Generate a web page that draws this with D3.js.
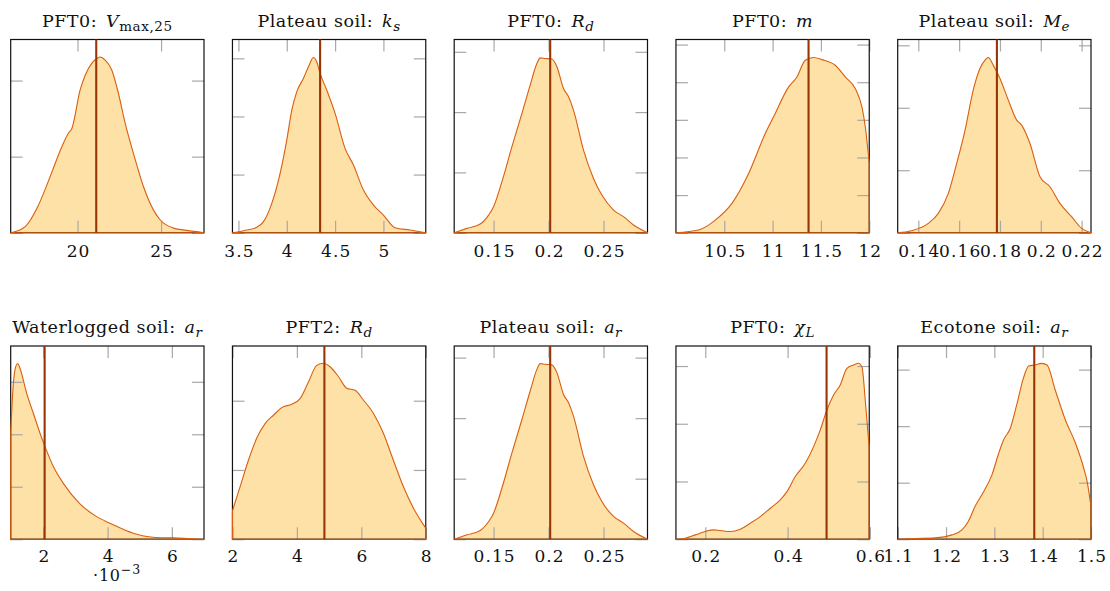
<!DOCTYPE html>
<html><head><meta charset="utf-8">
<script src="https://cdn.jsdelivr.net/npm/d3@7"></script>
<style>
body{margin:0;background:#fff}
svg{display:block}
text{font-family:"DejaVu Serif","Liberation Serif",serif;fill:#111}
</style>
</head><body><svg id="c" width="1110" height="591"></svg>
<script>
// ---- titles ----
const titlePrefix = ["PFT0:", "Plateau soil:", "PFT0:", "PFT0:", "Plateau soil:",
                     "Waterlogged soil:", "PFT2:", "Plateau soil:", "PFT0:", "Ecotone soil:"];
const titleSymbol = ["V", "k", "R", "m", "M", "a", "R", "a", "χ", "a"];
const titleSub    = ["max,25", "s", "d", "", "e", "r", "d", "r", "L", "r"];
const subItalic   = [false, true, true, true, true, true, true, true, true, true];

// ---- axes ----
const xDomains = [[16.0, 27.57], [3.438, 5.438], [0.1142, 0.29], [10.0, 12.0], [0.1299, 0.2246],
                  [0.000984, 0.007], [2, 8], [0.1142, 0.29], [0.1287, 0.5984], [1.1, 1.5]];
const xTicks = [[20, 25], [3.5, 4, 4.5, 5], [0.15, 0.2, 0.25], [10.5, 11, 11.5, 12],
                [0.14, 0.16, 0.18, 0.2, 0.22], [0.002, 0.004, 0.006], [2, 4, 6, 8],
                [0.15, 0.2, 0.25], [0.2, 0.4, 0.6], [1.1, 1.2, 1.3, 1.4, 1.5]];
const xTickMultiplier = [1, 1, 1, 1, 1, 1000, 1, 1, 1, 1];
const yMaxes = [0.254, 1.662, 16.02, 1.027, 30.93, 736.5, 0.279, 15.96, 3.347, 6.836];
const ySteps = [0.1, 0.5, 5, 0.2, 10, 200, 0.1, 5, 1, 2];

// ---- reference (vertical line) values ----
const refValues = [21.12, 4.345, 0.2015, 11.372, 0.1785, 0.00204, 4.854, 0.2015, 0.4947, 1.3826];

// ---- density curves [x, density] ----
const vmaxPFT0 = [[16.02,0],[16.87,0.008],[17.57,0.032],[17.97,0.052],[18.47,0.080],[19.06,0.113],
  [19.46,0.131],[19.66,0.137],[20.16,0.188],[20.46,0.207],[20.86,0.223],[21.16,0.229],[21.35,0.231],
  [21.65,0.227],[22.05,0.214],[22.45,0.183],[22.85,0.144],[23.35,0.104],[23.94,0.061],[24.54,0.030],
  [24.94,0.017],[25.74,0.006],[26.53,0.003],[27.57,0]];
const ksPlateau = [[3.438,0],[3.552,0.017],[3.69,0.046],[3.759,0.095],[3.845,0.252],[3.931,0.51],
  [4.0,0.797],[4.052,1.054],[4.103,1.212],[4.172,1.327],[4.224,1.427],[4.276,1.507],[4.31,1.47],
  [4.345,1.37],[4.414,1.226],[4.5,1.026],[4.603,0.725],[4.69,0.582],[4.793,0.367],[4.897,0.238],
  [5.0,0.152],[5.12,0.043],[5.276,0.023],[5.438,0]];
const rdPFT0 = [[0.1142,0],[0.1258,0.36],[0.1379,0.72],[0.1455,1.46],[0.15,2.15],[0.1576,4.23],
  [0.1667,7.13],[0.1758,9.89],[0.1833,12.24],[0.1894,14.03],[0.1924,14.5],[0.197,14.45],[0.203,14.4],
  [0.2076,13.76],[0.2136,11.96],[0.2182,11.27],[0.2227,10.17],[0.2318,6.85],[0.2409,4.5],[0.2485,3.12],
  [0.2591,1.88],[0.2682,1.33],[0.2773,0.64],[0.29,0]];
const mPFT0 = [[10.0,0],[10.234,0.014],[10.407,0.067],[10.579,0.156],[10.752,0.315],[10.924,0.527],
  [11.01,0.616],[11.166,0.775],[11.252,0.828],[11.338,0.917],[11.424,0.931],[11.51,0.92],[11.648,0.89],
  [11.752,0.828],[11.855,0.766],[11.924,0.669],[11.959,0.563],[12.0,0.368]];
const mePlateau = [[0.1299,0],[0.1367,0.32],[0.1449,1.49],[0.1498,3.09],[0.1547,6.29],[0.1588,11.09],
  [0.1629,16.43],[0.1669,22.83],[0.1702,26.29],[0.1727,27.63],[0.1743,28.05],[0.1767,26.83],[0.18,24.69],
  [0.1841,21.23],[0.1882,18.03],[0.1906,17.23],[0.1947,14.29],[0.1996,8.96],[0.2045,7.36],[0.2094,4.69],
  [0.2151,2.56],[0.22,0.69],[0.2246,0]];
const arWaterlogged = [[0.000984,410],[0.001067,594],[0.00114,658],[0.001202,670],[0.001275,651],
  [0.001482,556],[0.001689,480],[0.001896,404],[0.002052,353],[0.002311,277],[0.002622,213],
  [0.00314,135],[0.003658,86],[0.004073,61],[0.004798,23],[0.00542,7.6],[0.00604,5],[0.006995,0]];
const rdPFT2 = [[2.0,0.041],[2.238,0.076],[2.496,0.114],[2.755,0.146],[3.013,0.167],[3.272,0.179],
  [3.53,0.19],[3.841,0.195],[4.099,0.203],[4.358,0.227],[4.616,0.251],[4.823,0.254],[5.03,0.249],
  [5.288,0.235],[5.547,0.218],[5.806,0.215],[6.064,0.201],[6.374,0.182],[6.685,0.153],[6.995,0.114],
  [7.305,0.076],[7.615,0.045],[8.0,0.016]];
const arPlateau = [[0.1142,0],[0.1258,0.36],[0.1379,0.72],[0.1455,1.46],[0.15,2.15],[0.1576,4.23],
  [0.1667,7.13],[0.1758,9.89],[0.1833,12.24],[0.1894,14.03],[0.1924,14.5],[0.197,14.45],[0.203,14.4],
  [0.2076,13.76],[0.2136,11.96],[0.2182,11.27],[0.2227,10.17],[0.2318,6.85],[0.2409,4.5],[0.2485,3.12],
  [0.2591,1.88],[0.2682,1.33],[0.2773,0.64],[0.29,0]];
const chiLPFT0 = [[0.1287,0],[0.1514,0.017],[0.1757,0.075],[0.2,0.133],[0.2202,0.162],[0.2364,0.15],
  [0.2607,0.133],[0.285,0.173],[0.3093,0.277],[0.3336,0.392],[0.3579,0.537],[0.3822,0.681],[0.3984,0.825],
  [0.4186,1.085],[0.4429,1.316],[0.4632,1.604],[0.4794,1.893],[0.4955,2.239],[0.5117,2.499],[0.5279,2.672],
  [0.5441,2.96],[0.5603,3.018],[0.5725,3.047],[0.5806,2.989],[0.5887,2.412],[0.598,1.604]];
const arEcotone = [[1.1,0],[1.136,0.024],[1.177,0.047],[1.212,0.153],[1.233,0.33],[1.246,0.625],
  [1.26,1.155],[1.278,1.685],[1.295,2.275],[1.309,3.041],[1.319,3.512],[1.333,3.925],[1.347,4.808],
  [1.36,5.692],[1.371,6.128],[1.384,6.164],[1.398,6.223],[1.409,6.164],[1.426,5.28],[1.447,4.219],
  [1.468,3.394],[1.485,2.51],[1.492,2.039],[1.5,1.155]];
const curves = [vmaxPFT0, ksPlateau, rdPFT0, mPFT0, mePlateau, arWaterlogged, rdPFT2, arPlateau, chiLPFT0, arEcotone];

// ---- layout ----
const W = 193.3, H = 193.2;
const colLeft0 = 10.7, colStep = 221.75;
const rowTops = [39.5, 346];
const titleBase = [26.7, 333.3];
const labelPad = [12.5, 10.5];

const fillColor = "#fec44f", strokeColor = "#d95f0e", refColor = "#993404", tickColor = "#a8a8a8";

const svg = d3.select("#c");
const fmt = v => String(+v.toFixed(6));

curves.forEach((data, i) => {
  const row = Math.floor(i / 5), col = i % 5;
  const left = colLeft0 + col * colStep, top = rowTops[row];
  const g = svg.append("g").attr("transform", `translate(${left},${top})`);
  const x = d3.scaleLinear().domain(xDomains[i]).range([0, W]);
  const y = d3.scaleLinear().domain([0, yMaxes[i]]).range([H, 0]);
  const yt = d3.range(0, yMaxes[i] + 1e-9, ySteps[i]);

  const area = d3.area().x(d => x(d[0])).y0(H).y1(d => y(d[1])).curve(d3.curveMonotoneX);

  g.append("path").datum(data).attr("d", area).attr("fill", fillColor).attr("fill-opacity", 0.5);

  // inward ticks
  const tickG = g.append("g").attr("color", tickColor);
  tickG.append("g").attr("transform", `translate(0,${H})`)
    .call(d3.axisTop(x).tickValues(xTicks[i]).tickSize(12).tickFormat(""));
  tickG.append("g")
    .call(d3.axisBottom(x).tickValues(xTicks[i]).tickSize(12).tickFormat(""));
  tickG.append("g")
    .call(d3.axisRight(y).tickValues(yt).tickSize(12).tickFormat(""));
  tickG.append("g").attr("transform", `translate(${W},0)`)
    .call(d3.axisLeft(y).tickValues(yt).tickSize(12).tickFormat(""));
  tickG.selectAll(".domain").remove();
  tickG.selectAll(".tick line").attr("stroke-width", 1.2);

  // frame
  g.append("rect").attr("width", W).attr("height", H)
    .attr("fill", "none").attr("stroke", "#111").attr("stroke-width", 1.2);

  // density outline
  g.append("path").datum(data).attr("d", area)
    .attr("fill", "none").attr("stroke", strokeColor).attr("stroke-width", 1.1)
    .attr("stroke-linejoin", "round");

  // reference line
  g.append("line").attr("x1", x(refValues[i])).attr("x2", x(refValues[i]))
    .attr("y1", 0).attr("y2", H).attr("stroke", refColor).attr("stroke-width", 2.1);

  // x tick labels
  const lab = g.append("g").attr("transform", `translate(0,${H})`)
    .call(d3.axisBottom(x).tickValues(xTicks[i]).tickSize(0).tickPadding(labelPad[row])
      .tickFormat(v => fmt(v * xTickMultiplier[i])));
  lab.select(".domain").remove();
  lab.selectAll("text").attr("font-size", 17).attr("letter-spacing", 1.1)
    .attr("dx", 0.55).attr("fill", "#111");

  // title
  const t = svg.append("text").attr("x", left + W / 2).attr("y", titleBase[row])
    .attr("text-anchor", "middle").attr("font-size", 17.5).attr("letter-spacing", 0.5);
  t.append("tspan").text(titlePrefix[i]);
  t.append("tspan").attr("dx", 9).attr("font-style", "italic").text(titleSymbol[i]);
  if (titleSub[i]) {
    t.append("tspan").attr("dy", 4).attr("font-size", 13.5).attr("letter-spacing", 0.6)
      .attr("font-style", subItalic[i] ? "italic" : "normal").text(titleSub[i]);
  }
});

// scale label for the waterlogged panel
const sl = svg.append("text").attr("x", 93).attr("y", 581).attr("font-size", 16).attr("letter-spacing", 0.8);
sl.append("tspan").text("·10");
sl.append("tspan").attr("dy", -7).attr("font-size", 12.5).text("−3");
</script></body></html>
